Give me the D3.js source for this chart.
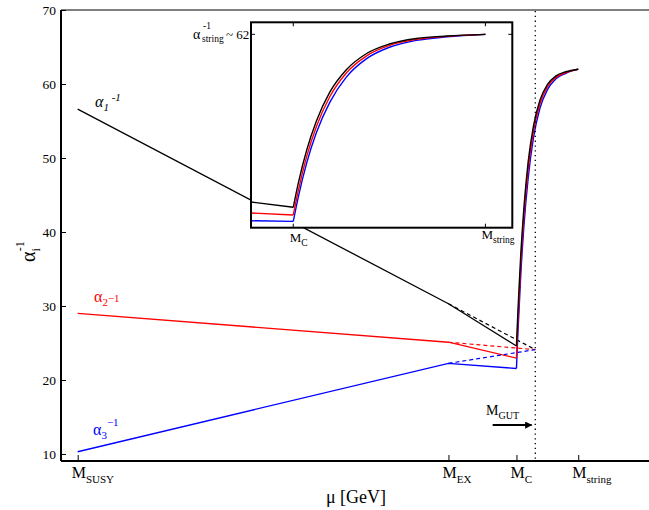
<!DOCTYPE html>
<html>
<head>
<meta charset="utf-8">
<script src="https://cdn.jsdelivr.net/npm/d3@7"></script>
<style>
body { margin: 0; background: #fff; }
text { font-family: "Liberation Serif", "DejaVu Serif", serif; }
</style>
</head>
<body>
<div id="chart"></div>
<script>
const width = 649;
const height = 510;

// x is log10(mu / GeV)
const xTickValues = [3, 15, 17.2, 19.2];
const xTickNames = [["M", "SUSY"], ["M", "EX"], ["M", "C"], ["M", "string"]];
const yTickValues = [10, 20, 30, 40, 50, 60, 70];
const muGUT = 17.81;
const alphaString = 62;

// straight running below the compactification scale
const alpha1Low = [[3, 56.6], [15, 30.3], [17.2, 24.6]];
const alpha2Low = [[3, 29.0], [15, 25.1], [17.2, 22.95]];
const alpha3Low = [[3, 10.3], [15, 22.25], [17.2, 21.55]];

// naive continuation to unification (dashed)
const alpha1Dash = [[15, 30.3], [17.81, 24.1]];
const alpha2Dash = [[15, 25.1], [17.81, 24.1]];
const alpha3Dash = [[15, 22.25], [17.81, 24.1]];

// power-law running above M_C up to M_string
const alpha1Run = [[17.2, 24.6], [17.25, 29.6], [17.34, 37.0], [17.44, 43.2], [17.58, 49.5],
    [17.75, 54.3], [17.96, 57.8], [18.2, 59.9], [18.48, 61.1], [18.8, 61.65], [19.2, 62.0]];
const alpha2Run = [[17.2, 22.95], [17.25, 28.0], [17.34, 35.6], [17.44, 42.0], [17.58, 48.5],
    [17.75, 53.6], [17.96, 57.3], [18.2, 59.6], [18.48, 60.9], [18.8, 61.55], [19.2, 62.0]];
const alpha3Run = [[17.2, 21.55], [17.25, 26.6], [17.34, 34.2], [17.44, 40.7], [17.58, 47.3],
    [17.75, 52.7], [17.96, 56.7], [18.2, 59.2], [18.48, 60.7], [18.8, 61.45], [19.2, 62.0]];

const colors = ["#000", "#f00", "#00f"];
const lows = [alpha1Low, alpha2Low, alpha3Low];
const dashes = [alpha1Dash, alpha2Dash, alpha3Dash];
const runs = [alpha1Run, alpha2Run, alpha3Run];

// arrow marking M_GUT
const arrowFrom = [16.43, 13.9];
const arrowTo = [17.69, 13.9];

const svg = d3.select("#chart")
    .append("svg")
    .attr("width", width)
    .attr("height", height);

const x = d3.scaleLinear().domain([2.46, 21.49]).range([61, 649]);
const y = d3.scaleLinear().domain([9.05, 70]).range([461, 10]);

const lineStraight = d3.line().x(d => x(d[0])).y(d => y(d[1]));
const lineCurve = d3.line().x(d => x(d[0])).y(d => y(d[1])).curve(d3.curveMonotoneX);

// top border (grey)
svg.append("line")
    .attr("x1", 61).attr("x2", width)
    .attr("y1", 10).attr("y2", 10)
    .attr("stroke", "#555").attr("stroke-width", 1.5);

// y axis
const yAxis = svg.append("g")
    .attr("transform", "translate(61,0)")
    .call(d3.axisLeft(y).tickValues(yTickValues).tickSize(-5).tickPadding(5));
yAxis.select(".domain").attr("stroke-width", 2).attr("d", "M0,10V461");
yAxis.selectAll("text").attr("font-size", 13.5).attr("fill", "#000")
    .style("font-family", "Liberation Serif");

// x axis
const xAxis = svg.append("g")
    .attr("transform", "translate(0,461)")
    .call(d3.axisBottom(x).tickValues(xTickValues).tickSize(-6).tickFormat(""));
xAxis.select(".domain").attr("stroke-width", 2).attr("d", "M61,0H" + width);

xTickValues.forEach(function(v, i) {
    const t = svg.append("text")
        .attr("x", x(v) - 6)
        .attr("y", 478)
        .attr("font-size", 16);
    t.append("tspan").text(xTickNames[i][0]);
    t.append("tspan").attr("dy", 5).attr("font-size", 11).text(xTickNames[i][1]);
});

svg.append("text")
    .attr("x", 356).attr("y", 503)
    .attr("text-anchor", "middle")
    .attr("font-size", 18)
    .text("\u03bc [GeV]");

// y axis title
const yt = svg.append("text")
    .attr("transform", "translate(35,262) rotate(-90)")
    .attr("font-size", 20);
yt.append("tspan").text("\u03b1");
yt.append("tspan").attr("dy", 5).attr("font-size", 12).text("i");
yt.append("tspan").attr("dx", -3).attr("dy", -16).attr("font-size", 12).text("-1");

// main lines
lows.forEach(function(s, i) {
    svg.append("path").datum(s).attr("d", lineStraight)
        .attr("fill", "none").attr("stroke", colors[i]).attr("stroke-width", 1.3);
    svg.append("path").datum(dashes[i]).attr("d", lineStraight)
        .attr("fill", "none").attr("stroke", colors[i]).attr("stroke-width", 1.2)
        .attr("stroke-dasharray", "4,3");
});
[2, 1, 0].forEach(function(i) {
    svg.append("path").datum(runs[i]).attr("d", lineCurve)
        .attr("fill", "none").attr("stroke", colors[i]).attr("stroke-width", 1.4);
});

// dotted M_GUT line
svg.append("line")
    .attr("x1", x(muGUT)).attr("x2", x(muGUT))
    .attr("y1", 11).attr("y2", 460)
    .attr("stroke", "#000").attr("stroke-width", 1.3)
    .attr("stroke-dasharray", "1.3,3.5");

// arrow
svg.append("defs").append("marker")
    .attr("id", "arr")
    .attr("viewBox", "0 0 10 10")
    .attr("refX", 9).attr("refY", 5)
    .attr("markerWidth", 4.5).attr("markerHeight", 3.6)
    .attr("orient", "auto")
    .append("path").attr("d", "M0,0L10,5L0,10Z").attr("fill", "#000");
svg.append("line")
    .attr("x1", x(arrowFrom[0])).attr("y1", y(arrowFrom[1]))
    .attr("x2", x(arrowTo[0])).attr("y2", y(arrowTo[1]))
    .attr("stroke", "#000").attr("stroke-width", 2)
    .attr("marker-end", "url(#arr)");
const mg = svg.append("text").attr("x", 486).attr("y", 414.5).attr("font-size", 14);
mg.append("tspan").text("M");
mg.append("tspan").attr("dy", 4).attr("font-size", 10).text("GUT");

// series labels
function alphaLabel(px, py, idx, color, supDy, italic) {
    const t = svg.append("text").attr("x", px).attr("y", py)
        .attr("font-size", 16).attr("fill", color);
    if (italic) t.attr("font-style", "italic");
    t.append("tspan").text("\u03b1");
    t.append("tspan").attr("dy", 4).attr("font-size", 11).text(idx);
    t.append("tspan").attr("dy", supDy).attr("font-size", 11).text(italic ? " -1" : "\u22121");
    return t;
}
alphaLabel(95, 107, "1", "#000", -10, true);
alphaLabel(94, 302, "2", "#f00", -4, false);
alphaLabel(93, 435, "3", "#00f", -13, false);

// ---- inset ----
const ix0 = 251, ix1 = 512.3, iy0 = 22.3, iy1 = 227.7;
const xi = d3.scaleLinear().domain([16.76, 19.48]).range([ix0, ix1]);
const yi = d3.scaleLinear().domain([20.19, 64.6]).range([iy1, iy0]);

const inset = svg.append("g");
inset.append("rect")
    .attr("x", ix0).attr("y", iy0)
    .attr("width", ix1 - ix0).attr("height", iy1 - iy0)
    .attr("fill", "#fff");

svg.append("clipPath").attr("id", "insetClip")
    .append("rect")
    .attr("x", ix0).attr("y", iy0)
    .attr("width", ix1 - ix0).attr("height", iy1 - iy0);

const insetLines = inset.append("g").attr("clip-path", "url(#insetClip)");
const iStraight = d3.line().x(d => xi(d[0])).y(d => yi(d[1]));
const iCurve = d3.line().x(d => xi(d[0])).y(d => yi(d[1])).curve(d3.curveMonotoneX);
[2, 1, 0].forEach(function(i) {
    insetLines.append("path").datum(lows[i]).attr("d", iStraight)
        .attr("fill", "none").attr("stroke", colors[i]).attr("stroke-width", 1.4);
    insetLines.append("path").datum(runs[i]).attr("d", iCurve)
        .attr("fill", "none").attr("stroke", colors[i]).attr("stroke-width", 1.4);
});

inset.append("rect")
    .attr("x", ix0).attr("y", iy0)
    .attr("width", ix1 - ix0).attr("height", iy1 - iy0)
    .attr("fill", "none").attr("stroke", "#000").attr("stroke-width", 2);

const insetTicks = [17.2, 19.2];
insetTicks.forEach(function(v) {
    inset.append("line").attr("x1", xi(v)).attr("x2", xi(v))
        .attr("y1", iy1).attr("y2", iy1 - 4).attr("stroke", "#000");
    inset.append("line").attr("x1", xi(v)).attr("x2", xi(v))
        .attr("y1", iy0).attr("y2", iy0 + 4).attr("stroke", "#000");
});
inset.append("line").attr("x1", ix0).attr("x2", ix0 + 4)
    .attr("y1", yi(alphaString)).attr("y2", yi(alphaString)).attr("stroke", "#000");
inset.append("line").attr("x1", ix1).attr("x2", ix1 - 4)
    .attr("y1", yi(alphaString)).attr("y2", yi(alphaString)).attr("stroke", "#000");

const mcl = inset.append("text").attr("x", xi(17.2) - 3.5).attr("y", 241.5).attr("font-size", 13);
mcl.append("tspan").text("M");
mcl.append("tspan").attr("dy", 4).attr("font-size", 9.5).text("C");
const msl = inset.append("text").attr("x", xi(19.2) - 4).attr("y", 238.5).attr("font-size", 13);
msl.append("tspan").text("M");
msl.append("tspan").attr("dy", 4).attr("font-size", 9.5).text("string");

const asl = inset.append("text").attr("y", 38.5).attr("font-size", 14);
asl.append("tspan").attr("x", 193).text("\u03b1");
asl.append("tspan").attr("x", 203).attr("y", 29).attr("font-size", 9.5).text("-1");
asl.append("tspan").attr("x", 202).attr("y", 42).attr("font-size", 9.5).text("string");
asl.append("tspan").attr("x", 226).attr("y", 38.5).attr("font-size", 13).text("~ " + alphaString);
</script>
</body>
</html>
